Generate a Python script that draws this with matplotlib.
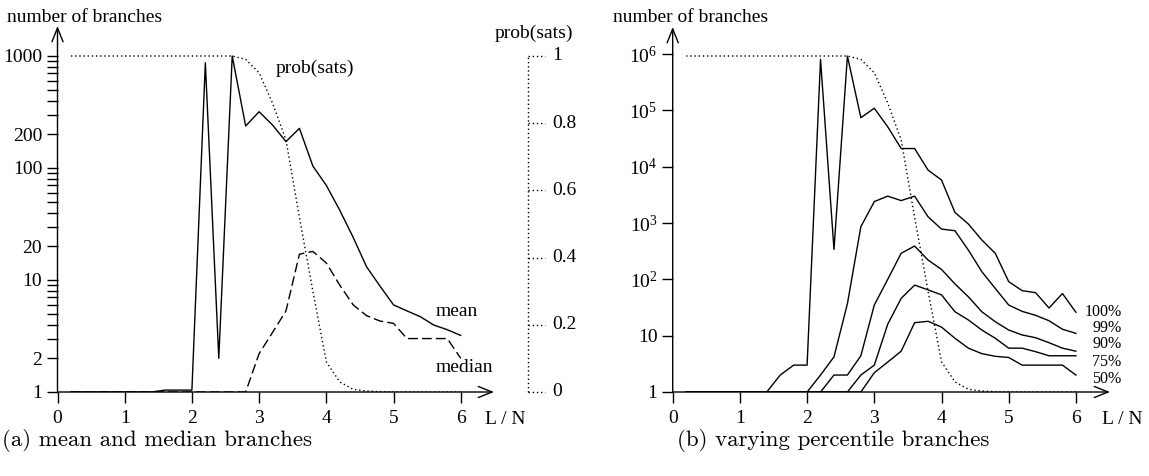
import matplotlib
matplotlib.use('Agg')
import matplotlib.pyplot as plt
from matplotlib.patches import FancyArrowPatch

plt.rcParams['font.family'] = ['Liberation Serif', 'DejaVu Serif']
plt.rcParams['mathtext.fontset'] = 'custom'
plt.rcParams['mathtext.rm'] = 'Liberation Serif'
plt.rcParams['mathtext.it'] = 'Liberation Serif:italic'

# ---------------- data ----------------
ratio = [0.2, 0.4, 0.6, 0.8, 1.0, 1.2, 1.4, 1.6, 1.8, 2.0,
         2.2, 2.4, 2.6, 2.8, 3.0, 3.2, 3.4, 3.6, 3.8, 4.0,
         4.2, 4.4, 4.6, 4.8, 5.0, 5.2, 5.4, 5.6, 5.8, 6.0]

mean_branches = [1, 1, 1, 1, 1, 1, 1, 1.04, 1.04, 1.04,
                 870, 2.0, 1000, 237, 318, 242, 172, 226, 104, 70,
                 42, 24, 13.1, 8.8, 6.0, 5.3, 4.7, 3.96, 3.6, 3.2]

median_branches = [1, 1, 1, 1, 1, 1, 1, 1, 1, 1,
                   1, 1, 1, 1, 2.2, 3.4, 5.3, 17, 18, 14.2,
                   9.0, 6.0, 4.8, 4.3, 4.1, 3.0, 3.0, 3.0, 3.0, 2.0]

prob_sats = [1, 1, 1, 1, 1, 1, 1, 1, 1, 1,
             1, 1, 1, 0.99, 0.95, 0.86, 0.75, 0.52, 0.30, 0.09,
             0.03, 0.008, 0.003, 0.001, 0.0, 0.0, 0.0, 0.0, 0.0, 0.0]

p100 = [1, 1, 1, 1, 1, 1, 1, 2, 3, 3,
        8.0e5, 340, 9.2e5, 7.4e4, 1.09e5, 5.1e4, 2.1e4, 2.1e4, 8.7e3, 5.8e3,
        1540, 960, 500, 290, 91, 63, 58, 31, 56, 26]
p99 = [1, 1, 1, 1, 1, 1, 1, 1, 1, 1,
       2, 4.2, 37, 860, 2400, 3000, 2500, 3000, 1290, 780,
       730, 330, 137, 69, 35, 27, 23, 18.4, 13, 11]
p90 = [1, 1, 1, 1, 1, 1, 1, 1, 1, 1,
       1, 2, 2, 4.4, 35, 100, 290, 390, 220, 150,
       83, 49, 26.6, 17.7, 12.6, 10.3, 9.2, 7.5, 6.0, 5.3]
p75 = [1, 1, 1, 1, 1, 1, 1, 1, 1, 1,
       1, 1, 1, 2, 3, 16, 46, 79, 65, 53,
       26.6, 19, 12.6, 9, 6, 6, 5.2, 4.4, 4.4, 4.4]
p50 = median_branches

percentile_series = [p100, p99, p90, p75, p50]
percentile_labels = ['100%', '99%', '90%', '75%', '50%']

x_ticks = [0, 1, 2, 3, 4, 5, 6]
left_major = [1, 2, 10, 20, 100, 200, 1000]
left_major_labels = ['1', '2', '10', '20', '100', '200', '1000']
left_minor = [3, 4, 5, 6, 7, 8, 9, 30, 40, 50, 60, 70, 80, 90,
              300, 400, 500, 600, 700, 800, 900]
right_major = [1, 10, 100, 1000, 1e4, 1e5, 1e6]
right_major_labels = ['1', '10', r'$\mathregular{10^2}$', r'$\mathregular{10^3}$',
                      r'$\mathregular{10^4}$', r'$\mathregular{10^5}$',
                      r'$\mathregular{10^6}$']
prob_ticks = [0, 0.2, 0.4, 0.6, 0.8, 1]
prob_tick_labels = ['0', '0.2', '0.4', '0.6', '0.8', '1']

# ---------------- figure ----------------
W, H = 1149, 476
fig = plt.figure(figsize=(W / 100, H / 100), dpi=100)

DOT = (0, (1, 2))
DASH = (0, (7, 3))
FS = 14


def axis_arrows(ax):
    for xy0, xy1 in [((0, 0), (1, 0)), ((0, 0), (0, 1))]:
        a = FancyArrowPatch(xy0, xy1, transform=ax.transAxes,
                            arrowstyle='->,head_length=1.0,head_width=0.4',
                            mutation_scale=10, lw=1, color='black',
                            shrinkA=0, shrinkB=0, clip_on=False)
        ax.add_patch(a)


def base_axes(rect, ytop):
    ax = fig.add_axes(rect)
    ax.set_yscale('log')
    ax.set_ylim(1, ytop)
    for s in ax.spines.values():
        s.set_visible(False)
    ax.tick_params(which='both', direction='out', length=8, width=1,
                   top=False, right=False, labelsize=FS)
    ax.tick_params(axis='y', pad=3)
    ax.tick_params(axis='x', pad=5)
    ax.set_xticks(x_ticks)
    ax.set_xticklabels([str(t) for t in x_ticks])
    ax.patch.set_visible(False)
    axis_arrows(ax)
    return ax


# ---- left panel ----
px_per_unit = 67.2
axL_x0, axL_x1 = 57.5, 494
axL = base_axes([axL_x0 / W, (H - 392) / H, (axL_x1 - axL_x0) / W, (392 - 26) / H],
                10 ** ((392 - 26) / 112))
axL.set_xlim(0, (axL_x1 - axL_x0) / px_per_unit)
axL.set_yticks(left_major)
axL.set_yticklabels(left_major_labels)
axL.set_yticks(left_minor, minor=True)
axL.set_yticklabels([], minor=True)
axL.plot(ratio, mean_branches, color='black', lw=1)
axL.plot(ratio, median_branches, color='black', lw=1, ls=DASH)
axL.text(3.25, 780, 'prob(sats)', fontsize=FS, ha='left', va='center')
axL.text(5.62, 5.2, 'mean', fontsize=FS, ha='left', va='center')
axL.text(5.62, 1.64, 'median', fontsize=FS, ha='left', va='center')
axL.text(6.67, -0.075, 'L / N', fontsize=FS, ha='center', va='center',
         transform=axL.get_xaxis_transform())

axLp = axL.twinx()
axLp.set_ylim(0, (392 - 26) / 336)
for s in axLp.spines.values():
    s.set_visible(False)
axLp.set_yticks([])
axLp.plot(ratio, prob_sats, color='black', lw=1, ls=DOT)
px = 7.0
axLp.plot([px, px], [prob_ticks[0], prob_ticks[-1]], color='black', lw=1, ls=DOT, clip_on=False)
for v, lab in zip(prob_ticks, prob_tick_labels):
    axLp.plot([px, px + 0.25], [v, v], color='black', lw=1, ls=DOT, clip_on=False)
    axLp.text(px + 0.36, v, lab, fontsize=FS, ha='left', va='center')
axLp.text(px + 0.09, 1.068, 'prob(sats)', fontsize=FS, ha='center', va='center')

# ---- right panel ----
axR_x0, axR_x1 = 672.7, 1110
axR = base_axes([axR_x0 / W, (H - 392) / H, (axR_x1 - axR_x0) / W, (392 - 27) / H],
                10 ** ((392 - 27) / 56.33))
axR.set_xlim(0, (axR_x1 - axR_x0) / px_per_unit)
axR.set_yticks(right_major)
axR.set_yticklabels(right_major_labels)
axR.minorticks_off()
for ser in percentile_series:
    axR.plot(ratio, ser, color='black', lw=1)
axR.text(6.69, -0.075, 'L / N', fontsize=FS, ha='center', va='center',
         transform=axR.get_xaxis_transform())
label_y_px = [311.7, 327.7, 344.3, 361.7, 379]
for lab, ypx in zip(percentile_labels, label_y_px):
    axR.text(6.68, (392 - ypx) / (392 - 27), lab, fontsize=11.5, ha='right', va='center',
             transform=axR.get_xaxis_transform())

axRp = axR.twinx()
axRp.set_ylim(0, (392 - 27) / 336)
for s in axRp.spines.values():
    s.set_visible(False)
axRp.set_yticks([])
axRp.plot(ratio, prob_sats, color='black', lw=1, ls=DOT)

# ---- axis titles and captions ----
fig.text(7 / W, 1 - 17 / H, 'number of branches', fontsize=FS, ha='left', va='center')
fig.text(613 / W, 1 - 17 / H, 'number of branches', fontsize=FS, ha='left', va='center')
fig.text(2 / W, 1 - 446 / H, '(a) mean and median branches', fontsize=16.5,
         family='cmr10', ha='left', va='baseline')
fig.text(677 / W, 1 - 446 / H, '(b) varying percentile branches', fontsize=16.5,
         family='cmr10', ha='left', va='baseline')

fig.savefig('out.png', dpi=100)
